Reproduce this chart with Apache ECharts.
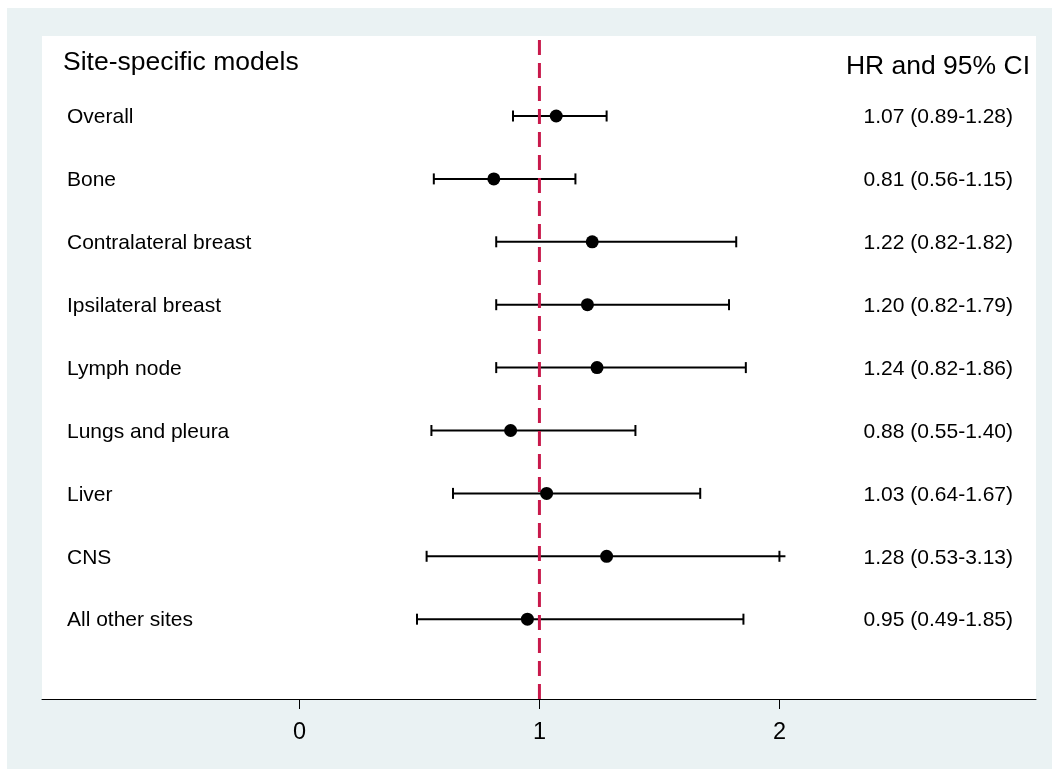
<!DOCTYPE html>
<html>
<head>
<meta charset="utf-8">
<script src="https://cdn.jsdelivr.net/npm/echarts@6/dist/echarts.min.js"></script>
<style>
html,body{margin:0;padding:0;background:#fff;}
#chart{width:1052px;height:769px;}
</style>
</head>
<body>
<div id="chart"></div>
<script>
const sites = ['Overall', 'Bone', 'Contralateral breast', 'Ipsilateral breast', 'Lymph node',
  'Lungs and pleura', 'Liver', 'CNS', 'All other sites'];
const hr = [1.07, 0.81, 1.22, 1.20, 1.24, 0.88, 1.03, 1.28, 0.95];
const ciLow = [0.89, 0.56, 0.82, 0.82, 0.82, 0.55, 0.64, 0.53, 0.49];
const ciHigh = [1.28, 1.15, 1.82, 1.79, 1.86, 1.40, 1.67, 3.13, 1.85];
const ciText = ['1.07 (0.89-1.28)', '0.81 (0.56-1.15)', '1.22 (0.82-1.82)', '1.20 (0.82-1.79)',
  '1.24 (0.82-1.86)', '0.88 (0.55-1.40)', '1.03 (0.64-1.67)', '1.28 (0.53-3.13)', '0.95 (0.49-1.85)'];
const xTicks = [0, 1, 2];
const refValue = 1;
const ciClip = 2;            // upper limits beyond this are drawn truncated
const leftHeader = 'Site-specific models';
const rightHeader = 'HR and 95% CI';

const X_MIN = -1.0725, X_MAX = 3.069;
const Y_MIN = -1.272, Y_MAX = 9.269;
const FONT = '"Liberation Sans", Arial, Helvetica, sans-serif';

const chart = echarts.init(document.getElementById('chart'));
const rows = sites.map((s, i) => i);

chart.setOption({
  animation: false,
  backgroundColor: '#eaf2f3',
  graphic: [
    { type: 'rect', shape: { x: 0, y: 0, width: 1052, height: 8 }, style: { fill: '#fff' }, silent: true },
    { type: 'rect', shape: { x: 0, y: 0, width: 7, height: 769 }, style: { fill: '#fff' }, silent: true },
    { type: 'text', x: 63, y: 63, z: 10,
      style: { text: leftHeader, font: '26.5px ' + FONT, fill: '#000', textAlign: 'left', textVerticalAlign: 'middle' } },
    { type: 'text', x: 1030, y: 67, z: 10,
      style: { text: rightHeader, font: '26.5px ' + FONT, fill: '#000', textAlign: 'right', textVerticalAlign: 'middle' } }
  ],
  grid: { left: 42, right: 16, top: 36, bottom: 70, show: true, backgroundColor: '#fff', borderWidth: 0 },
  xAxis: {
    type: 'value', min: X_MIN, max: X_MAX,
    splitLine: { show: false },
    axisLine: { show: true, onZero: false, lineStyle: { color: '#000', width: 1 } },
    axisTick: { show: true, customValues: xTicks, length: 10, lineStyle: { color: '#000', width: 1 } },
    axisLabel: { show: true, customValues: xTicks, color: '#000', fontSize: 23.5, fontFamily: FONT, margin: 22 }
  },
  yAxis: { type: 'value', min: Y_MIN, max: Y_MAX, inverse: true, show: false },
  series: [
    {
      type: 'custom', z: 2,
      data: rows.map(i => [i, ciLow[i], ciHigh[i]]),
      encode: { x: [1, 2], y: 0 },
      renderItem: function (params, api) {
        const i = api.value(0), lo = api.value(1), hi = api.value(2);
        const p0 = api.coord([lo, i]);
        const pc = api.coord([Math.min(hi, ciClip), i]);
        const ext = hi > ciClip ? 6 : 0;
        const half = 5.5;
        const st = { stroke: '#000', lineWidth: 2 };
        return {
          type: 'group',
          children: [
            { type: 'line', shape: { x1: p0[0], y1: p0[1], x2: pc[0] + ext, y2: pc[1] }, style: st },
            { type: 'line', shape: { x1: p0[0], y1: p0[1] - half, x2: p0[0], y2: p0[1] + half }, style: st },
            { type: 'line', shape: { x1: pc[0], y1: pc[1] - half, x2: pc[0], y2: pc[1] + half }, style: st }
          ]
        };
      }
    },
    {
      type: 'line', z: 3, symbol: 'none', silent: true,
      data: [[refValue, Y_MIN], [refValue, Y_MAX]],
      lineStyle: { color: '#c8194b', width: 3, type: [15, 8], dashOffset: 19 }
    },
    {
      type: 'scatter', z: 4, symbol: 'circle', symbolSize: 13,
      itemStyle: { color: '#000', opacity: 1 },
      data: rows.map(i => [hr[i], i])
    },
    {
      type: 'scatter', z: 5, symbolSize: 0, silent: true,
      itemStyle: { opacity: 1 },
      data: rows.map(i => ({ value: [X_MIN, i], name: sites[i] })),
      label: { show: true, position: 'right', distance: 25, offset: [0, 1.5], formatter: p => p.name,
        color: '#000', fontSize: 21, fontFamily: FONT }
    },
    {
      type: 'scatter', z: 5, symbolSize: 0, silent: true,
      itemStyle: { opacity: 1 },
      data: rows.map(i => ({ value: [X_MAX, i], name: ciText[i] })),
      label: { show: true, position: 'left', distance: 23, offset: [0, 1.5], formatter: p => p.name,
        color: '#000', fontSize: 21, fontFamily: FONT }
    }
  ]
});
</script>
</body>
</html>
